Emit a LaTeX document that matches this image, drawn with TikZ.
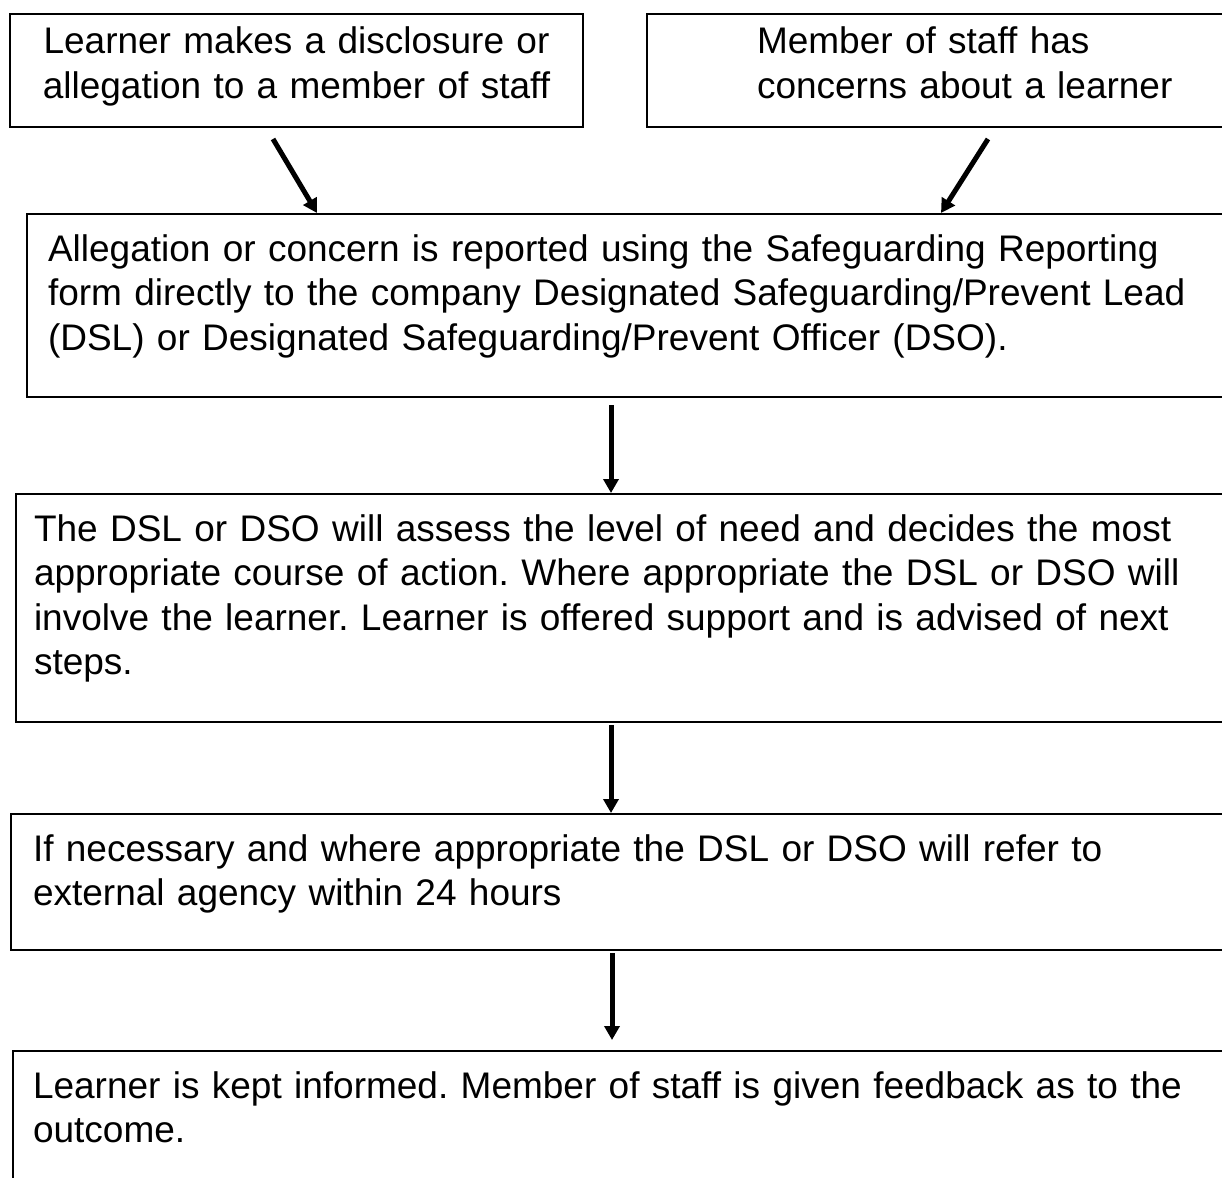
\documentclass[tikz,border=0pt]{standalone}
\usepackage{fontspec}
\setmainfont{Liberation Sans}
\usetikzlibrary{arrows.meta}
\frenchspacing

\tikzset{
    stepbox/.style={draw, line width=2pt, rectangle, anchor=north west, inner ysep=0pt,
        align=left, font=\fontsize{37}{44.5}\selectfont},
    arr/.style={-{Triangle[length=14pt,width=15pt]}, line width=5pt}
}

\begin{document}
\begin{tikzpicture}[x=1pt,y=-1pt]
    % the frame of the page
    \path[use as bounding box, clip] (0,0) rectangle (1222,1177);

    % draw the boxes with their texts
    \node[stepbox, align=center, inner xsep=0pt, text width=573pt, text height=40pt, text depth=73pt]
        (learner) at (9,13) {Learner makes a disclosure or\\allegation to a member of staff};
    \node[stepbox, inner xsep=110pt, text width=500pt, text height=40pt, text depth=73pt]
        (concern) at (646,13) {Member of staff has\\concerns about a learner};
    \node[stepbox, inner xsep=21pt, text width=1192pt, text height=47pt, text depth=136pt]
        (report) at (26,213) {Allegation or concern is reported using the Safeguarding Reporting\\
        form directly to the company Designated Safeguarding/Prevent Lead\\
        (DSL) or Designated Safeguarding/Prevent Officer (DSO).};
    \node[stepbox, inner xsep=18pt, text width=1209pt, text height=47pt, text depth=181pt]
        (assess) at (15,493) {The DSL or DSO will assess the level of need and decides the most\\
        appropriate course of action. Where appropriate the DSL or DSO will\\
        involve the learner. Learner is offered support and is advised of next\\
        steps.};
    \node[stepbox, inner xsep=22pt, text width=1206pt, text height=47pt, text depth=89pt]
        (refer) at (10,813) {If necessary and where appropriate the DSL or DSO will refer to\\
        external agency within 24 hours};
    \node[stepbox, inner xsep=20pt, text width=1208pt, text height=47pt, text depth=180pt]
        (outcome) at (12,1050) {Learner is kept informed. Member of staff is given feedback as to the\\
        outcome.};

    % the tails of the arrows (just below the boxes)
    \coordinate (t1) at ([xshift=264pt,yshift=-11pt]learner.south west);
    \coordinate (t2) at ([xshift=342pt,yshift=-11pt]concern.south west);
    \coordinate (t3) at ([xshift=585pt,yshift=-7pt]report.south west);
    \coordinate (t4) at ([xshift=596pt,yshift=-2pt]assess.south west);
    \coordinate (t5) at ([xshift=602pt,yshift=-2pt]refer.south west);

    % draw the arrows
    \draw[arr] (t1) -- ([xshift=291pt]report.north west);
    \draw[arr] (t2) -- ([xshift=915pt]report.north west);
    \draw[arr] (t3) -- (t3 |- assess.north);
    \draw[arr] (t4) -- (t4 |- refer.north);
    \draw[arr, shorten >=10pt] (t5) -- (t5 |- outcome.north);
\end{tikzpicture}
\end{document}
